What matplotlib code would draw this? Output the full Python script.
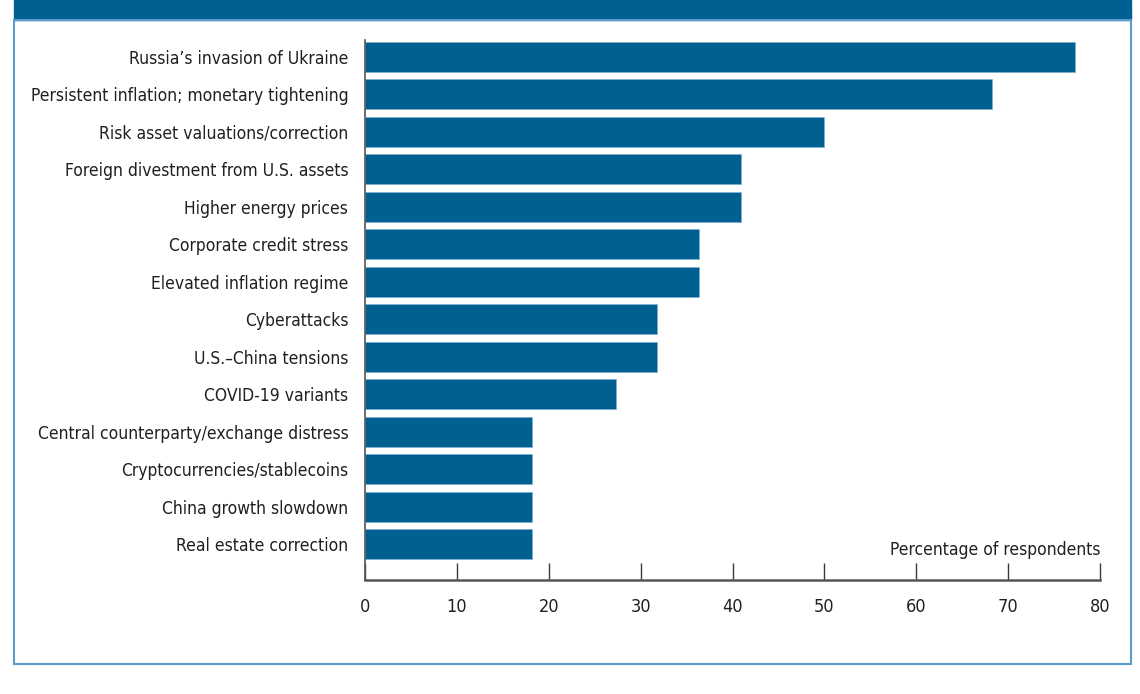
import matplotlib.pyplot as plt
from matplotlib.patches import Rectangle

# survey shares (percent of respondents), top to bottom
risks = ['Russia\u2019s invasion of Ukraine',
         'Persistent inflation; monetary tightening',
         'Risk asset valuations/correction',
         'Foreign divestment from U.S. assets',
         'Higher energy prices',
         'Corporate credit stress',
         'Elevated inflation regime',
         'Cyberattacks',
         'U.S.\u2013China tensions',
         'COVID-19 variants',
         'Central counterparty/exchange distress',
         'Cryptocurrencies/stablecoins',
         'China growth slowdown',
         'Real estate correction']
shares = [77.3, 68.2, 50.0, 40.9, 40.9, 36.4, 36.4, 31.8, 31.8, 27.3,
          18.2, 18.2, 18.2, 18.2]
xticks = [0, 10, 20, 30, 40, 50, 60, 70, 80]

BLUE = '#006092'
FRAME = '#5b9bc8'
TXT = '#231f20'

plt.rcParams['font.family'] = ['DejaVu Sans']
plt.rcParams['font.stretch'] = 'condensed'

W, H = 1140, 694
fig = plt.figure(figsize=(W / 100, H / 100), dpi=100)

# header band and light frame
fig.patches.append(Rectangle((14 / W, 1 - 20 / H), 1117 / W, 20 / H,
                             transform=fig.transFigure, color=BLUE, zorder=0))
fig.patches.append(Rectangle((14 / W, 1 - 664 / H), 1117 / W, 644 / H,
                             transform=fig.transFigure, fill=False,
                             edgecolor=FRAME, lw=1.5, zorder=0))

ax = fig.add_axes([365 / W, 1 - 580 / H, 735 / W, 540 / H])
ypos = list(range(len(risks)))
ax.barh(ypos, shares, height=0.8, color=BLUE, edgecolor='#7fb0d2', linewidth=0.5)

ax.set_xlim(0, 80)
ax.set_ylim(13.96, -0.45)
ax.set_yticks(ypos)
ax.set_yticklabels(risks, fontsize=12.5, color=TXT, fontstretch='condensed')
ax.set_xticks(xticks)
ax.set_xticklabels([str(t) for t in xticks], fontsize=13, color=TXT,
                   fontstretch='condensed')

ax.tick_params(axis='y', length=0, pad=12)
ax.tick_params(axis='x', direction='in', length=12, width=1, color='#3a3a3a', pad=13)

for s in ['top', 'right']:
    ax.spines[s].set_visible(False)
ax.spines['left'].set_color('#555555')
ax.spines['left'].set_linewidth(1.2)
ax.spines['bottom'].set_color('#555555')
ax.spines['bottom'].set_linewidth(1.8)

ax.text(80, 13.15, 'Percentage of respondents', ha='right', va='center',
        fontsize=12.5, color=TXT, fontstretch='condensed')

fig.savefig('out.png', dpi=100)
